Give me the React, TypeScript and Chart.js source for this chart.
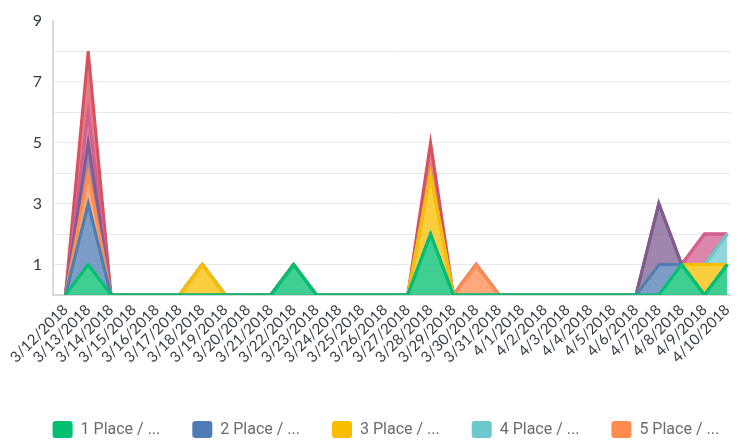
import React, { useEffect, useRef } from "react";
import { Chart, registerables } from "chart.js";

Chart.register(...registerables);

const dates = [
  "3/12/2018", "3/13/2018", "3/14/2018", "3/15/2018", "3/16/2018", "3/17/2018",
  "3/18/2018", "3/19/2018", "3/20/2018", "3/21/2018", "3/22/2018", "3/23/2018",
  "3/24/2018", "3/25/2018", "3/26/2018", "3/27/2018", "3/28/2018", "3/29/2018",
  "3/30/2018", "3/31/2018", "4/1/2018", "4/2/2018", "4/3/2018", "4/4/2018",
  "4/5/2018", "4/6/2018", "4/7/2018", "4/8/2018", "4/9/2018", "4/10/2018",
];

const seriesLabels = [
  "1 Place / ...", "2 Place / ...", "3 Place / ...", "4 Place / ...",
  "5 Place / ...", "6 Place / ...", "7 Place / ...", "8 Place / ...",
];

const place1 = [0,1,0,0,0,0,0,0,0,0,1,0,0,0,0,0,2,0,0,0,0,0,0,0,0,0,0,1,0,1];
const place2 = [0,2,0,0,0,0,0,0,0,0,0,0,0,0,0,0,0,0,0,0,0,0,0,0,0,0,1,0,0,0];
const place3 = [0,0,0,0,0,0,1,0,0,0,0,0,0,0,0,0,2,0,0,0,0,0,0,0,0,0,0,0,1,0];
const place4 = [0,0,0,0,0,0,0,0,0,0,0,0,0,0,0,0,0,0,0,0,0,0,0,0,0,0,0,0,0,1];
const place5 = [0,1,0,0,0,0,0,0,0,0,0,0,0,0,0,0,0,0,1,0,0,0,0,0,0,0,0,0,0,0];
const place6 = [0,1,0,0,0,0,0,0,0,0,0,0,0,0,0,0,0,0,0,0,0,0,0,0,0,0,2,0,0,0];
const place7 = [0,1,0,0,0,0,0,0,0,0,0,0,0,0,0,0,0,0,0,0,0,0,0,0,0,0,0,0,1,0];
const place8 = [0,2,0,0,0,0,0,0,0,0,0,0,0,0,0,0,1,0,0,0,0,0,0,0,0,0,0,0,0,0];

const seriesValues = [place1, place2, place3, place4, place5, place6, place7, place8];

const lineColors = ["#00BF6F", "#507CB6", "#F9BE00", "#6BC8CD", "#FF8B4F", "#7D5E90", "#D25F90", "#D9505F"];
const fillColors = [
  "rgba(0,191,111,0.75)", "rgba(80,124,182,0.75)", "rgba(249,190,0,0.75)", "rgba(107,200,205,0.75)",
  "rgba(255,139,79,0.75)", "rgba(125,94,144,0.75)", "rgba(210,95,144,0.75)", "rgba(217,80,95,0.75)",
];

const yTickLabels = [1, 3, 5, 7, 9];

const legendShift = {
  id: "legendShift",
  afterLayout(chart: any) {
    const l = chart.legend;
    if (l) {
      l.left += 20.6;
      l.right += 20.6;
    }
  },
};

export default function App() {
  const canvasRef = useRef<HTMLCanvasElement | null>(null);

  useEffect(() => {
    document.body.style.margin = "0";
    document.body.style.overflow = "hidden";
    const canvas = canvasRef.current;
    if (!canvas) return;

    const datasets = seriesValues.map((vals, i) => ({
      label: seriesLabels[i],
      data: vals.map((v, idx) => ({ x: idx, y: v })),
      borderColor: lineColors[i],
      backgroundColor: fillColors[i],
      borderWidth: 3,
      pointRadius: 0,
      pointHoverRadius: 0,
      tension: 0,
      fill: i === 0 ? "origin" : "-1",
    }));

    const chart = new Chart(canvas, {
      type: "line",
      data: { datasets },
      plugins: [legendShift],
      options: {
        animation: false,
        responsive: false,
        maintainAspectRatio: false,
        layout: {
          autoPadding: false,
          padding: { left: 0, top: 13.3, right: 0, bottom: 0 },
        },
        plugins: {
          tooltip: { enabled: false },
          legend: {
            display: true,
            position: "bottom",
            align: "start",
            labels: {
              boxWidth: 20,
              boxHeight: 17,
              padding: 32,
              color: "#6b6b6b",
              font: { family: "Roboto", size: 16 },
              useBorderRadius: true,
              borderRadius: 3,
              generateLabels: (ch: any) =>
                ch.data.datasets
                  .map((ds: any, i: number) => ({
                    text: ds.label,
                    fillStyle: lineColors[i],
                    strokeStyle: lineColors[i],
                    lineWidth: 0,
                    hidden: false,
                    datasetIndex: i,
                    borderRadius: 3,
                    fontColor: "#6b6b6b",
                  }))
                  .filter((it: any) => it.datasetIndex < 5),
            },
          },
        },
        scales: {
          x: {
            type: "linear",
            position: "bottom",
            min: -0.542,
            max: 29.141,
            grid: { display: false, drawTicks: false },
            border: { display: true, color: "#d9d9d9", width: 2 },
            afterFit: (s: any) => {
              s.height = 94;
            },
            ticks: {
              stepSize: 1,
              includeBounds: false,
              autoSkip: false,
              maxRotation: 45,
              minRotation: 45,
              padding: 6,
              color: "#333e48",
              font: { family: "Lato", size: 15 },
              callback: (v: any) => (Number.isInteger(v) && dates[v] ? dates[v] : ""),
            },
          },
          y: {
            stacked: true,
            min: 0,
            max: 9,
            afterFit: (s: any) => {
              s.width = 53;
            },
            grid: {
              drawTicks: false,
              color: (ctx: any) => (ctx.tick && ctx.tick.value === 9 ? "rgba(0,0,0,0)" : "#e8e8e8"),
              lineWidth: 1,
            },
            border: { display: true, color: "#d9d9d9", width: 2 },
            ticks: {
              stepSize: 1,
              padding: 11,
              color: "#333e48",
              font: { family: "Lato", size: 16 },
              callback: (v: any) => (yTickLabels.includes(v) ? String(v) : ""),
            },
          },
        },
      },
    });

    return () => chart.destroy();
  }, []);

  return (
    <div style={{ position: "relative", width: 746, height: 448 }}>
      <canvas ref={canvasRef} width={746} height={448} style={{ width: 746, height: 448, display: "block" }} />
    </div>
  );
}
